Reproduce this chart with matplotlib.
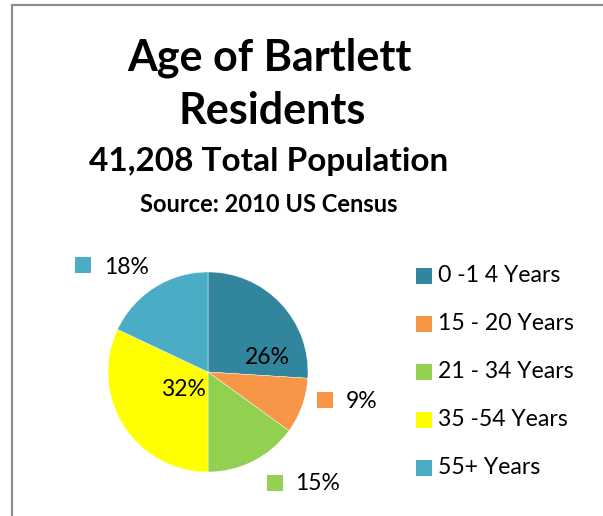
import matplotlib
matplotlib.use("Agg")
import matplotlib.pyplot as plt
from matplotlib.patches import Rectangle

# Datos
grupos = ["0 -1 4 Years", "15 - 20 Years", "21 - 34 Years", "35 -54 Years", "55+ Years"]
porcentajes = [26, 9, 15, 32, 18]
colores = ["#31859C", "#F79646", "#92D050", "#FFFF00", "#4BACC6"]

titulo = ["Age of Bartlett", "Residents"]
subtitulo = "41,208 Total Population"
fuente = "Source: 2010 US Census"

W, H = 603, 516
FONT = "Lato"

fig = plt.figure(figsize=(W / 100, H / 100), dpi=100)


def fx(px):
    return px / W


def fy(py):
    return 1 - py / H


# Marco (solo se ven los bordes superior e izquierdo)
fig.patches.append(Rectangle((fx(12), fy(530)), fx(620), 525 / H, transform=fig.transFigure,
                             fill=False, edgecolor="#8c8c8c", linewidth=1.6))

# Titulos
fig.text(fx(269), fy(58), titulo[0], ha="center", va="center", fontsize=31,
         fontweight="bold", family=FONT)
fig.text(fx(272), fy(111), titulo[1], ha="center", va="center", fontsize=31,
         fontweight="bold", family=FONT)
fig.text(fx(269), fy(161), subtitulo, ha="center", va="center", fontsize=24,
         fontweight="bold", family=FONT)
fig.text(fx(269), fy(204), fuente, ha="center", va="center", fontsize=17,
         fontweight="bold", family=FONT)

# Pastel
ax = fig.add_axes([fx(108), fy(472), 200 / W, 200 / H])
wedges, _ = ax.pie(porcentajes, colors=colores, startangle=90, counterclock=False,
                   radius=1, wedgeprops=dict(edgecolor="white", linewidth=0.3))
ax.set_xlim(-1, 1)
ax.set_ylim(-1, 1)
ax.set_aspect("equal")
ax.axis("off")

# Etiquetas de porcentaje (posiciones como en Excel)
pos_etiquetas = [(0.59, 0.15), (1.54, -0.30), (1.10, -1.11), (-0.25, -0.18), (-0.81, 1.05)]
pos_marcador = [None, (1.17, -0.28), (0.67, -1.11), None, (-1.25, 1.07)]
for p, c, (tx, ty), m in zip(porcentajes, colores, pos_etiquetas, pos_marcador):
    ax.text(tx, ty, f"{p}%", ha="center", va="center", fontsize=16.5, family=FONT,
            clip_on=False)
    if m is not None:
        ax.add_patch(Rectangle((m[0] - 0.08, m[1] - 0.08), 0.16, 0.16, facecolor=c,
                               edgecolor="none", clip_on=False))

# Leyenda
for i, (g, c) in enumerate(zip(grupos, colores)):
    yc = 276 + 48 * i
    fig.patches.append(Rectangle((fx(416), fy(yc + 8)), 16 / W, 16 / H,
                                 transform=fig.transFigure, facecolor=c, edgecolor="none"))
    fig.text(fx(438), fy(yc), g, ha="left", va="center", fontsize=16.6, family=FONT)

plt.savefig("out.png", dpi=100)
